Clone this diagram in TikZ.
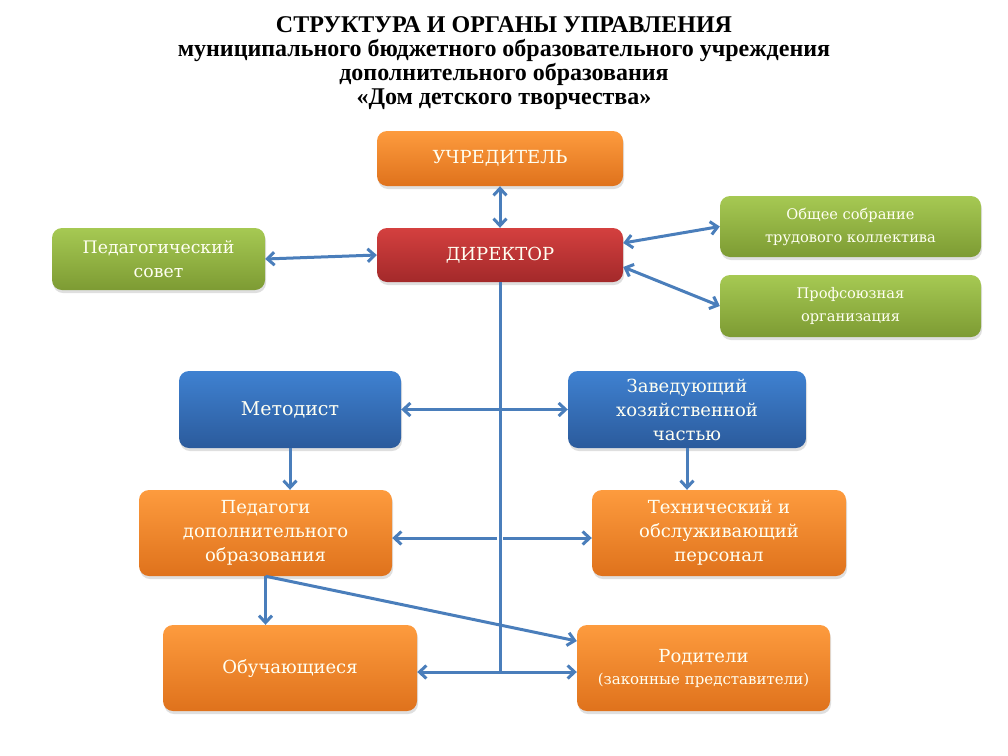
\documentclass[tikz,border=0pt]{standalone}
\usepackage{fontspec}
\setmainfont{DejaVu Serif}
\newfontfamily\titlefont{Liberation Serif}
\usetikzlibrary{
    arrows.meta,
    calc,
    shadows,
}

\definecolor{orangetop}{HTML}{FD9B3E}
\definecolor{orangebot}{HTML}{DF721C}
\definecolor{redtop}{HTML}{D4403F}
\definecolor{redbot}{HTML}{A3292A}
\definecolor{greentop}{HTML}{A6C953}
\definecolor{greenbot}{HTML}{7D9B33}
\definecolor{bluetop}{HTML}{3F81D1}
\definecolor{bluebot}{HTML}{2B5B9C}
\definecolor{linkblue}{HTML}{4A7EBB}
\definecolor{boxtext}{HTML}{FFFFF2}

\begin{document}
\begin{tikzpicture}[x=1pt, y=-1pt,
        box/.style={rectangle, rounded corners=10pt, text=boxtext, align=center, inner sep=2pt,
            drop shadow={shadow xshift=1pt, shadow yshift=-3pt, opacity=0.25}},
        orangebox/.style={box, top color=orangetop, bottom color=orangebot},
        redbox/.style={box, top color=redtop, bottom color=redbot},
        greenbox/.style={box, top color=greentop, bottom color=greenbot},
        bluebox/.style={box, top color=bluetop, bottom color=bluebot},
        link/.style={draw=linkblue, line width=3pt, {Straight Barb[length=7pt, width=13pt]}-{Straight Barb[length=7pt, width=13pt]}},
        linkto/.style={draw=linkblue, line width=3pt, -{Straight Barb[length=7pt, width=13pt]}},
        trunk/.style={draw=linkblue, line width=3pt},
        ]
        \useasboundingbox (0,0) rectangle (1008,755);
        \node[align=center, font=\titlefont\fontsize{24}{24}\selectfont\bfseries] (title) at (504,63)
            {СТРУКТУРА И ОРГАНЫ УПРАВЛЕНИЯ\\
             муниципального бюджетного образовательного учреждения\\
             дополнительного образования\\
             «Дом детского творчества»};
        \node[orangebox, minimum width=246, minimum height=55, font=\fontsize{18}{24}\selectfont] (founder) at (500,158.5) {УЧРЕДИТЕЛЬ};
        \node[redbox, minimum width=246, minimum height=54, font=\fontsize{18}{24}\selectfont] (director) at (500,255) {ДИРЕКТОР};
        \node[greenbox, minimum width=213, minimum height=62, font=\fontsize{17.3}{24}\selectfont] (council) at (158.5,259) {Педагогический\\совет};
        \node[greenbox, minimum width=261, minimum height=61, font=\fontsize{14.6}{23}\selectfont] (meeting) at (850.5,226.5) {Общее собрание\\трудового коллектива};
        \node[greenbox, minimum width=261, minimum height=62, font=\fontsize{14.6}{23}\selectfont] (union) at (850.5,306) {Профсоюзная\\организация};
        \node[bluebox, minimum width=222, minimum height=77, font=\fontsize{19}{24}\selectfont] (methodist) at (290,409.5) {Методист};
        \node[bluebox, minimum width=238, minimum height=77, font=\fontsize{18}{24}\selectfont] (manager) at (687,409.5) {Заведующий\\хозяйственной\\частью};
        \node[orangebox, minimum width=253, minimum height=86, font=\fontsize{18}{24}\selectfont] (teachers) at (265.5,533) {Педагоги\\дополнительного\\образования};
        \node[orangebox, minimum width=254, minimum height=86, font=\fontsize{18}{24}\selectfont] (staff) at (719,533) {Технический и\\обслуживающий\\персонал};
        \node[orangebox, minimum width=254, minimum height=86, font=\fontsize{18}{24}\selectfont] (pupils) at (290,668) {Обучающиеся};
        \node[orangebox, minimum width=253, minimum height=86, font=\fontsize{18}{22}\selectfont] (parents) at (703.5,668) {Родители\\{\fontsize{15}{20}\selectfont(законные представители)}};
        \coordinate (bottom) at (500,672);
        \coordinate (middle) at (500,538);
        % vertical trunk
        \draw[trunk] (director.south) -- (bottom);
        \draw[link] (founder) -- (director);
        \draw[link] (council.east) -- (director.west);
        \draw[link] ([yshift=12pt]director.east) -- (meeting.west);
        \draw[link] ([yshift=-12pt]director.east) -- (union.west);
        \draw[link] (methodist.east) -- (manager.west);
        \draw[linkto] ([xshift=-3pt]middle) -- (teachers.east |- middle);
        \draw[linkto] ([xshift=3pt]middle) -- (staff.west |- middle);
        \draw[link] (pupils.east |- bottom) -- (parents.west |- bottom);
        \draw[linkto] (methodist.south) -- (methodist.south |- teachers.north);
        \draw[linkto] (manager.south) -- (manager.south |- staff.north);
        \draw[linkto] (teachers.south) -- (teachers.south |- pupils.north);
        \draw[linkto] (teachers.south) -- ([yshift=27pt]parents.west);
    \end{tikzpicture}
\end{document}
